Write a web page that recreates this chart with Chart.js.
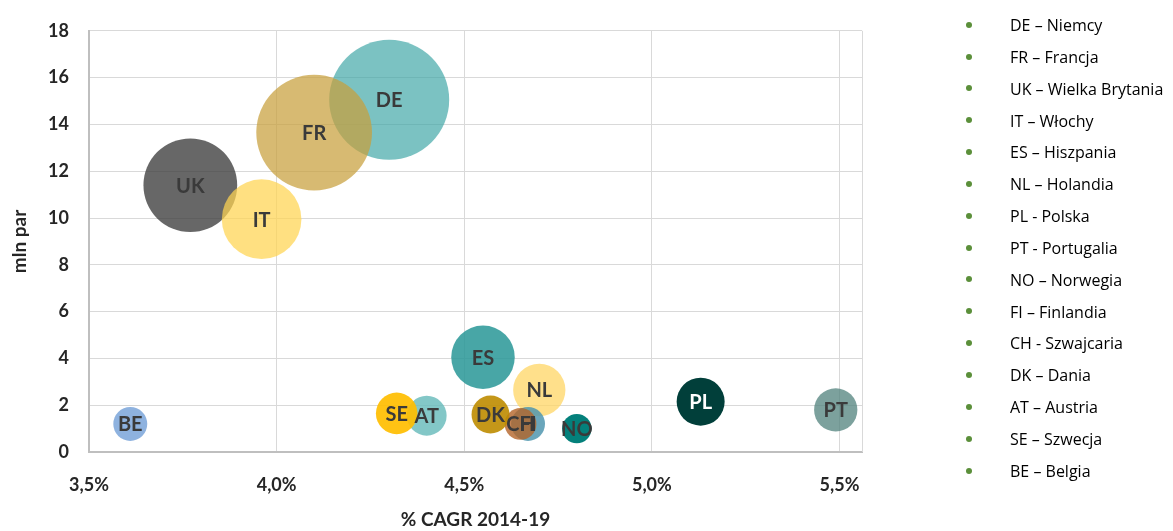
<!DOCTYPE html>
<html>
<head>
<meta charset="utf-8">
<script src="https://cdn.jsdelivr.net/npm/chart.js@4/dist/chart.umd.min.js"></script>
<style>
  html,body{margin:0;padding:0;background:#fff;}
  #wrap{position:relative;width:1173px;height:531px;}
  #legend{position:absolute;left:966px;top:12px;margin:0;padding:0;list-style:none;
    font-family:"Open Sans",Lato,sans-serif;font-size:16px;color:#000;}
  #legend li{height:31.85px;line-height:26px;white-space:nowrap;}
  #legend .dot{display:inline-block;width:6px;height:6px;border-radius:50%;background:#5b8f3a;
    margin-right:38px;vertical-align:middle;position:relative;top:-2px;}
</style>
</head>
<body>
<div id="wrap">
  <canvas id="c" width="1173" height="531"></canvas>
  <ul id="legend"></ul>
</div>
<script>
// === Data ===
const codes  = ["DE","FR","UK","IT","ES","NL","PL","PT","NO","FI","CH","DK","AT","SE","BE"];
const names  = ["DE – Niemcy","FR – Francja","UK – Wielka Brytania","IT – Włochy","ES – Hiszpania",
                "NL – Holandia","PL - Polska","PT - Portugalia","NO – Norwegia","FI – Finlandia",
                "CH - Szwajcaria","DK – Dania","AT – Austria","SE – Szwecja","BE – Belgia"];
const cagr   = [4.30,4.10,3.77,3.96,4.55,4.70,5.13,5.49,4.80,4.67,4.65,4.57,4.40,4.32,3.61];
const volume = [15.05,13.65,11.4,9.95,4.05,2.65,2.15,1.8,1.0,1.2,1.2,1.6,1.55,1.65,1.2];
const bubble = [100,93,61,44,28,19,16,13,6,8,7,10,11,12,8];
const xTicks = [3.5,4.0,4.5,5.0,5.5];

const colors = ["rgba(60,165,165,0.68)","rgba(200,160,60,0.72)","rgba(60,60,60,0.78)","rgba(255,212,80,0.72)",
  "rgba(40,150,150,0.85)","rgba(255,214,100,0.75)","#013f3a","rgba(80,130,124,0.75)",
  "#04807b","rgba(80,150,175,0.85)","rgba(180,100,40,0.8)","rgba(190,140,0,0.9)",
  "rgba(100,185,185,0.8)","rgba(255,190,0,0.92)","rgba(130,170,220,0.9)"];
const labelColors = codes.map(c=>c==="PL"?"#fff":"#3a3a3a");

const fmtPct = v => v.toFixed(1).replace(".",",")+"%";
const FONT = "Lato, 'Open Sans', sans-serif";

// labels in the bubbles + right frame line
const bubbleLabels = {
  id:"bubbleLabels",
  afterDatasetsDraw(chart){
    const ctx=chart.ctx, a=chart.chartArea;
    ctx.save();
    ctx.strokeStyle="#d9d9d9"; ctx.lineWidth=1;
    ctx.beginPath(); ctx.moveTo(a.right+0.5,a.top); ctx.lineTo(a.right+0.5,a.bottom); ctx.stroke();
    ctx.font="bold 20px "+FONT;
    ctx.textAlign="center"; ctx.textBaseline="middle";
    chart.getDatasetMeta(0).data.forEach((pt,i)=>{
      ctx.fillStyle=labelColors[i];
      ctx.fillText(codes[i], pt.x, pt.y+1);
    });
    ctx.restore();
  }
};

new Chart(document.getElementById("c"),{
  type:"bubble",
  data:{datasets:[{
    data:codes.map((c,i)=>({x:cagr[i],y:volume[i],r:6*Math.sqrt(bubble[i])})),
    backgroundColor:colors, borderWidth:0
  }]},
  options:{
    responsive:false, animation:false, events:[],
    layout:{autoPadding:false,padding:{top:25,right:311,left:0,bottom:0}},
    plugins:{legend:{display:false},tooltip:{enabled:false}},
    clip:false,
    scales:{
      x:{type:"linear",min:3.5,max:5.56,
        afterBuildTicks:s=>{s.ticks=xTicks.map(v=>({value:v}));},
        afterFit:s=>{s.height=79;},
        grid:{color:"#d9d9d9",drawTicks:false},
        border:{color:"#bfbfbf",width:2},
        ticks:{padding:22,color:"#262626",font:{family:FONT,size:18,weight:"bold"},
          callback:v=>fmtPct(v)},
        title:{display:true,text:"% CAGR 2014-19",color:"#262626",padding:{top:0,bottom:0},
          font:{family:FONT,size:19,weight:"bold"}}
      },
      y:{min:0,max:18,
        afterFit:s=>{s.width=89;},
        grid:{color:"#d9d9d9",drawTicks:false},
        border:{color:"#bfbfbf",width:2},
        ticks:{stepSize:2,padding:20,color:"#262626",font:{family:FONT,size:18,weight:"bold"}},
        title:{display:true,text:"mln par",color:"#262626",padding:{top:8,bottom:0},
          font:{family:FONT,size:19,weight:"bold"}}
      }
    }
  },
  plugins:[bubbleLabels]
});

// legend list
const ul=document.getElementById("legend");
names.forEach(n=>{
  const li=document.createElement("li");
  li.innerHTML=`<span class="dot"></span>${n}`;
  ul.appendChild(li);
});
</script>
</body>
</html>
